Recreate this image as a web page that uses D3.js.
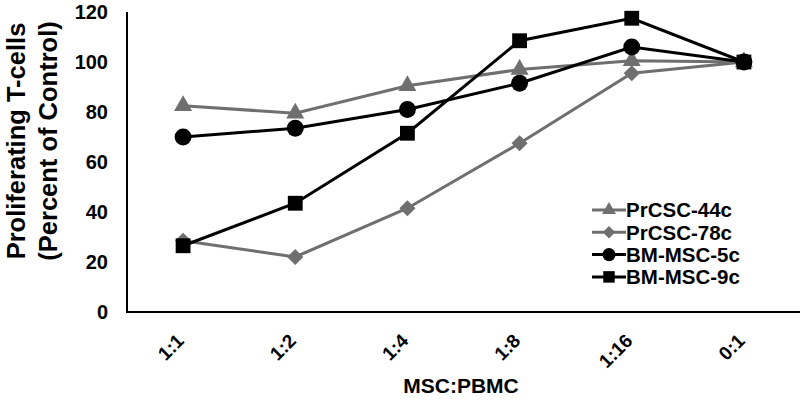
<!DOCTYPE html>
<html><head><meta charset="utf-8">
<script src="https://cdn.jsdelivr.net/npm/d3@7"></script>
<style>body{margin:0;background:#fff}svg{display:block}text{font-family:Arial,"Liberation Sans",sans-serif;font-weight:bold}</style>
</head><body><svg id="c" width="800" height="405"></svg>
<script>
const categories = ["1:1","1:2","1:4","1:8","1:16","0:1"];
const yTicks = [0,20,40,60,80,100,120];
const seriesNames = ["PrCSC-44c","PrCSC-78c","BM-MSC-5c","BM-MSC-9c"];
const prcsc44 = [82.5, 79.5, 90.5, 97, 100.5, 100];
const prcsc78 = [28.5, 22, 41.5, 67.5, 95.5, 100];
const bm5 = [70, 73.5, 81, 91.5, 106, 100];
const bm9 = [26.5, 43.5, 71.5, 108.5, 117.5, 100];
const seriesValues = [prcsc44, prcsc78, bm5, bm9];

const gray = "#6f6f6f";
const seriesColors = [gray, gray, "#000", "#000"];
const diamond = {draw(ctx, size){const r=Math.sqrt(size/2); ctx.moveTo(0,-r);ctx.lineTo(r,0);ctx.lineTo(0,r);ctx.lineTo(-r,0);ctx.closePath();}};
const seriesShapes = [d3.symbolTriangle, diamond, d3.symbolCircle, d3.symbolSquare];
const shapeSizes = [140, 130, 225, 220];

const svg = d3.select("#c");
const m = {l:127, r:800, t:12, b:312};
const x = d3.scaleBand().domain(categories).range([m.l, m.r]);
const y = d3.scaleLinear().domain([0,120]).range([m.b, m.t]);
const cx = d => x(d) + x.bandwidth()/2;

// axes
svg.append("line").attr("x1",m.l).attr("x2",m.l).attr("y1",m.t).attr("y2",m.b).attr("stroke","#000").attr("stroke-width",2);
svg.append("line").attr("x1",m.l-1).attr("x2",m.r).attr("y1",m.b).attr("y2",m.b).attr("stroke","#000").attr("stroke-width",2);

svg.selectAll(".yt").data(yTicks).enter().append("text")
  .attr("x", 108).attr("y", d=>y(d)).attr("dy","0.36em").attr("text-anchor","end")
  .attr("font-size",20).text(d=>d);

svg.selectAll(".xt").data(categories).enter().append("text")
  .attr("transform", d=>`translate(${cx(d)+2},${342}) rotate(-45)`)
  .attr("text-anchor","end").attr("font-size",19).text(d=>d);

svg.append("text").attr("x",461).attr("y",393).attr("text-anchor","middle").attr("font-size",21).text("MSC:PBMC");
const yl = svg.append("text").attr("transform","translate(0,141) rotate(-90)").attr("text-anchor","middle").attr("font-size",25.5);
yl.append("tspan").attr("x",0).attr("y",25).text("Proliferating T-cells");
yl.append("tspan").attr("x",0).attr("y",57).text("(Percent of Control)");

const line = d3.line().x((d,i)=>cx(categories[i])).y(d=>y(d));
seriesValues.forEach((vals,k)=>{
  svg.append("path").attr("d",line(vals)).attr("fill","none").attr("stroke",seriesColors[k]).attr("stroke-width",3);
});
seriesValues.forEach((vals,k)=>{
  svg.selectAll(null).data(vals).enter().append("path")
    .attr("d", d3.symbol().type(seriesShapes[k]).size(shapeSizes[k]))
    .attr("transform",(d,i)=>`translate(${cx(categories[i])},${y(d)})`)
    .attr("fill",seriesColors[k]);
});

// legend
const lg = svg.append("g");
seriesNames.forEach((n,k)=>{
  const yy = 210 + k*22.3;
  lg.append("line").attr("x1",592).attr("x2",626).attr("y1",yy).attr("y2",yy).attr("stroke",seriesColors[k]).attr("stroke-width",3);
  lg.append("path").attr("d",d3.symbol().type(seriesShapes[k]).size(shapeSizes[k]*0.6)).attr("transform",`translate(609,${yy})`).attr("fill",seriesColors[k]);
  lg.append("text").attr("x",626).attr("y",yy).attr("dy","0.36em").attr("font-size",20.5).text(n);
});
</script></body></html>
